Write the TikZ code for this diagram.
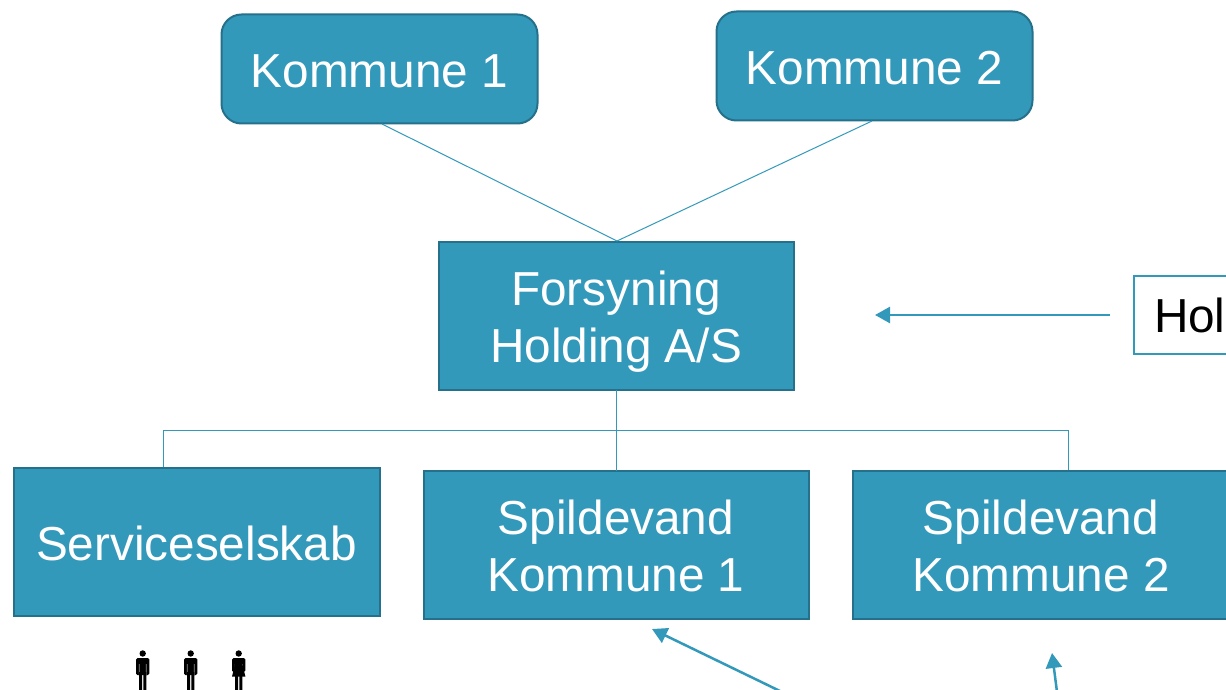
\documentclass[tikz,border=0pt]{standalone}
\usepackage{fontspec}
\setmainfont{Liberation Sans}
\usetikzlibrary{arrows.meta}
\definecolor{tealfill}{HTML}{3399BA}
\definecolor{tealedge}{HTML}{25708A}
\tikzset{
  x=1pt,y=-1pt,
  txt/.style={font=\fontsize{47.7}{57}\selectfont,align=center,inner sep=0pt,outer sep=0pt},
  bluebox/.style={txt,text=white,fill=tealfill,draw=tealedge,line width=2pt},
  roundbox/.style={bluebox,rounded corners=20pt},
  thinline/.style={draw=tealfill,line width=1pt},
  arrowline/.style={draw=tealfill,line width=2.5pt,-{Triangle[length=15pt,width=16pt]}},
  person/.style={fill=black,draw=none},
}
\newcommand{\lowr}[1]{\rule{0pt}{#1pt}}
\newcommand{\mansym}[1]{%
  \begin{scope}[shift={(#1,0)}]
    \fill[person] (0,653.5) circle (3.2);
    \fill[person,rounded corners=1.5pt] (-6.7,658) rectangle (6.7,675);
    \fill[black!45] (-3.9,664) rectangle (-3.2,675.5) (3.2,664) rectangle (3.9,675.5);
    \fill[person] (-3.7,672) rectangle (-0.6,690) (0.6,672) rectangle (3.7,690);
  \end{scope}}
\newcommand{\womansym}[1]{%
  \begin{scope}[shift={(#1,0)}]
    \fill[person] (0,653.5) circle (3.2);
    \fill[person,rounded corners=1.5pt] (-6.7,658) rectangle (6.7,672);
    \fill[black!45] (-3.9,664) rectangle (-3.2,671) (3.2,664) rectangle (3.9,671);
    \fill[person] (-3.5,664) -- (3.5,664) -- (6.7,676.5) -- (-6.7,676.5) -- cycle;
    \fill[person] (-3.7,676) rectangle (-0.6,690) (0.6,676) rectangle (3.7,690);
  \end{scope}}
\begin{document}
\begin{tikzpicture}
\useasboundingbox (0,0) rectangle (1226,690);
\clip (0,0) rectangle (1226,690);
\fill[white] (0,0) rectangle (1226,690);

\node[roundbox,minimum width=316pt,minimum height=109pt] (k1) at (379.5,69) {\lowr{37.2}Kommune 1};
\node[roundbox,minimum width=316pt,minimum height=109pt] (k2) at (874.5,66) {\lowr{37.2}Kommune 2};
\node[bluebox,minimum width=355pt,minimum height=148pt] (hold) at (616,315.5) {\lowr{46.7}Forsyning\\Holding A/S};
\node[bluebox,minimum width=366pt,minimum height=148pt] (serv) at (196.5,541.5) {\lowr{38.7}Serviceselskab};
\node[bluebox,minimum width=385pt,minimum height=148pt] (sp1) at (616,544.5) {\lowr{36.7}Spildevand\\Kommune 1};
\node[bluebox,minimum width=377pt,minimum height=148pt] (sp2) at (1041,544.5) {\lowr{36.7}Spildevand\\Kommune 2};
\node[txt,text=black,draw=tealfill,line width=1.5pt,fill=white,anchor=west,minimum width=300pt,minimum height=78pt,text width=260pt,align=left] (hl) at (1134,315) {Hol};

\coordinate (k1b) at (382,124);
\coordinate (k2b) at (872,121);
\coordinate (holdtop) at (617,241);
\coordinate (left) at (163,430);
\coordinate (right) at (1068,430);
\coordinate (servtop) at (163,467);
\coordinate (sp2top) at (1068,470);

\draw[thinline] (k1b) -- (holdtop);
\draw[thinline] (k2b) -- (holdtop);
\draw[thinline] (hold.south) -- (sp1.north);
\draw[thinline] (servtop) -- (left) -- (right) -- (sp2top);

\coordinate (hlstart) at (1110,315);
\coordinate (hlend) at (875,315);
\coordinate (a1start) at (782,692);
\coordinate (a1end) at (652,629);
\coordinate (a2start) at (1057,692);
\coordinate (a2end) at (1052,653);
\draw[arrowline] (hlstart) -- (hlend);
\draw[arrowline] (a1start) -- (a1end);
\draw[arrowline] (a2start) -- (a2end);

\mansym{142.7}
\mansym{190.7}
\womansym{238.7}
\end{tikzpicture}
\end{document}
